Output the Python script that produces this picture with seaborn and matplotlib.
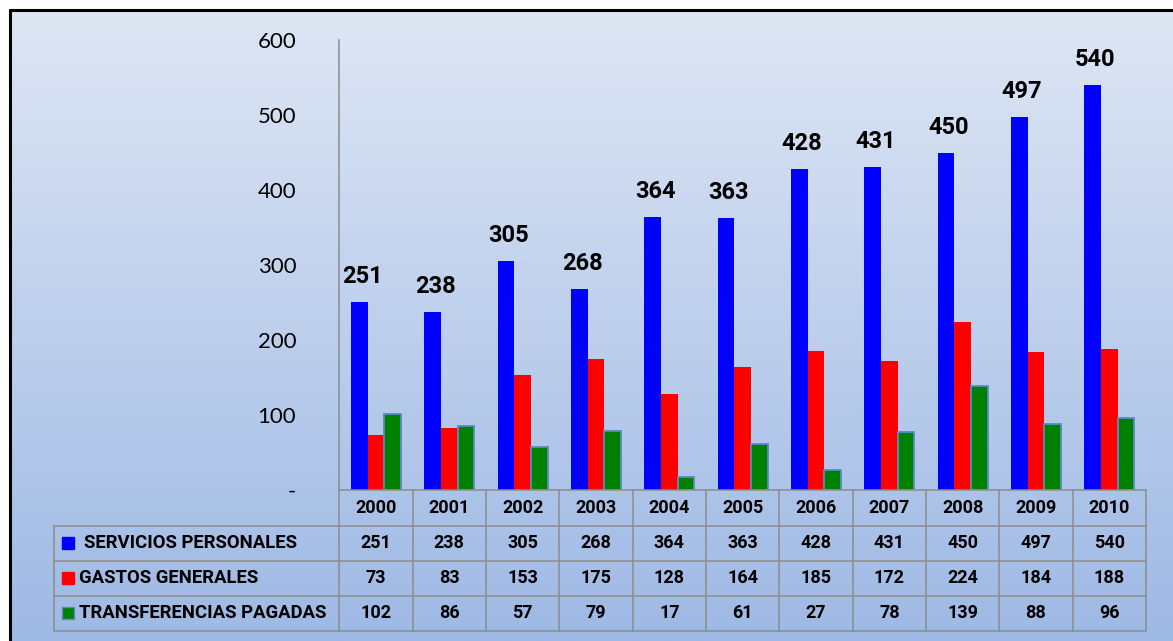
import numpy as np
import pandas as pd
import matplotlib
matplotlib.use('Agg')
import matplotlib.pyplot as plt
import matplotlib.transforms as mtransforms
import seaborn as sns

years = ['2000', '2001', '2002', '2003', '2004', '2005', '2006', '2007', '2008', '2009', '2010']
series = ['SERVICIOS PERSONALES', 'GASTOS GENERALES', 'TRANSFERENCIAS PAGADAS']
servicios = [251, 238, 305, 268, 364, 363, 428, 431, 450, 497, 540]
gastos = [73, 83, 153, 175, 128, 164, 185, 172, 224, 184, 188]
transferencias = [102, 86, 57, 79, 17, 61, 27, 78, 139, 88, 96]
colors = ['#0000FF', '#FF0000', '#008000']
yticks = [0, 100, 200, 300, 400, 500, 600]

values = [servicios, gastos, transferencias]
df = pd.DataFrame({
    'year': years * 3,
    'serie': [s for s in series for _ in years],
    'value': servicios + gastos + transferencias,
})

sns.set_style('white')
plt.rcParams['font.family'] = ['Lato', 'DejaVu Sans']
plt.rcParams['text.color'] = 'black'
plt.rcParams['ytick.color'] = 'black'
plt.rcParams['ytick.labelcolor'] = 'black'
BOLD = dict(family=['Roboto', 'DejaVu Sans'], fontweight='bold', color='black')

W, H = 1173, 641
fig = plt.figure(figsize=(W / 100, H / 100), dpi=100)
fig.patch.set_facecolor('white')

# pixel transform (origin top-left)
px = mtransforms.Affine2D().scale(1, -1).translate(0, H).scale(1 / W, 1 / H) + fig.transFigure

# gradient background inside the frame
bg = fig.add_axes([9 / W, 0, 1 - 9 / W, (H - 9) / H], zorder=-5)
top = np.array([222, 230, 244]) / 255
bot = np.array([158, 185, 229]) / 255
t = np.linspace(0, 1, 256)[:, None]
grad = (top * (1 - t) + bot * t)[:, None, :]
bg.imshow(grad, aspect='auto', extent=[0, 1, 0, 1])
bg.set_axis_off()
fig.add_artist(plt.Line2D([10, 10], [10, H + 5], transform=px, color='black', lw=2.2))
fig.add_artist(plt.Line2D([10, W + 5], [10, 10], transform=px, color='black', lw=2.2))

# main plot area
left, right, ytop, ybot = 339.3, 1146, 40, 490
ax = fig.add_axes([left / W, (H - ybot) / H, (right - left) / W, (ybot - ytop) / H])
ax.patch.set_alpha(0)
sns.barplot(data=df, x='year', y='value', hue='serie', palette=colors, saturation=1,
            width=0.68, ax=ax, legend=False, linewidth=0)
for bar in ax.containers[2]:
    bar.set_edgecolor('#5B8AC4')
    bar.set_linewidth(1.3)

ax.set_xlim(-0.5, len(years) - 0.5)
ax.set_ylim(0, 600)
ax.set_yticks(yticks)
ax.set_yticklabels(['-' if v == 0 else str(v) for v in yticks], fontsize=16, color='black')
ax.tick_params(axis='y', length=0, pad=31)
ax.set_xticks([])
ax.set_xlabel('')
ax.set_ylabel('')
for s in ['top', 'right', 'bottom']:
    ax.spines[s].set_visible(False)
ax.spines['left'].set_color('#8C8C8C')
ax.spines['left'].set_linewidth(1.1)

# data labels on the first series
for bar, v in zip(ax.containers[0], servicios):
    ax.annotate(str(v), (bar.get_x() + bar.get_width() / 2, v), xytext=(2, 10),
                textcoords='offset points', ha='center', va='bottom',
                fontsize=17, **BOLD)

# data table
tr = mtransforms.blended_transform_factory(ax.transData, px)
grid = dict(color='#8C8C8C', lw=1.1, clip_on=False)
rows = [490, 525.5, 560.5, 595.5, 630.5]
xl, xr = -0.5, len(years) - 0.5
for y in rows:
    ax.plot([xl, xr], [y, y], transform=tr, **grid)
for i in range(len(years) + 1):
    ax.plot([i - 0.5, i - 0.5], [rows[0], rows[-1]], transform=tr, **grid)
for i, yr in enumerate(years):
    ax.text(i, (rows[0] + rows[1]) / 2, yr, transform=tr, ha='center', va='center',
            fontsize=13, **BOLD)
for r, vals in enumerate(values):
    yc = (rows[r + 1] + rows[r + 2]) / 2
    for i, v in enumerate(vals):
        ax.text(i, yc, str(v), transform=tr, ha='center', va='center',
                fontsize=13, **BOLD)

# legend column
lx0 = 54.3
for y in rows[1:]:
    fig.add_artist(plt.Line2D([lx0, left], [y, y], transform=px, color='#8C8C8C', lw=1.1))
fig.add_artist(plt.Line2D([lx0, lx0], [rows[1], rows[-1]], transform=px, color='#8C8C8C', lw=1.1))
for r, (name, c) in enumerate(zip(series, colors)):
    yc = (rows[r + 1] + rows[r + 2]) / 2
    ec = '#5B8AC4' if r == 2 else c
    fig.add_artist(plt.Rectangle((62, yc - 6), 12, 12, transform=px, facecolor=c,
                                 edgecolor=ec, lw=1))
    fig.text(84 if r == 0 else 79, yc, name, transform=px, ha='left', va='center',
             fontsize=13.3, **BOLD)

fig.savefig('out.png', dpi=100)
